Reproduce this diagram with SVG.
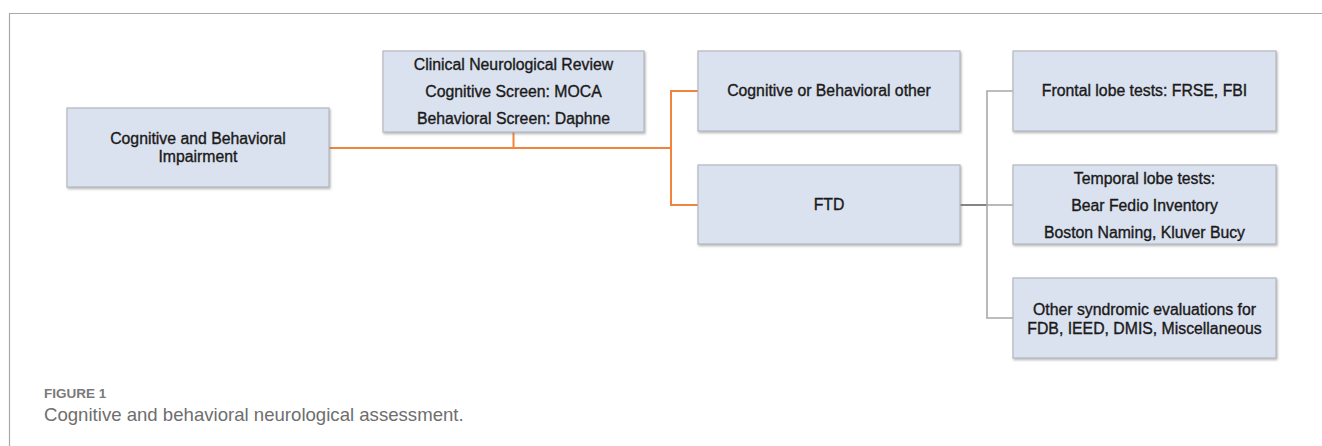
<svg xmlns="http://www.w3.org/2000/svg" width="1322" height="446" viewBox="0 0 1322 446">
  <defs>
    <filter id="sh" x="-5%" y="-5%" width="110%" height="115%">
      <feDropShadow dx="1" dy="1.5" stdDeviation="0.8" flood-color="#7a7a7a" flood-opacity="0.55"/>
    </filter>
  </defs>
  <style>
    .box { fill: #dae1ef; stroke: #b4b8c0; stroke-width: 1.2; filter: url(#sh); }
    .t { font-family: "Liberation Sans", Arial, sans-serif; font-size: 15.8px; fill: #1a1a1a; stroke: #1a1a1a; stroke-width: 0.35; text-anchor: middle; }
    .or { stroke: #f0843f; stroke-width: 2; fill: none; }
    .gr { stroke: #a8a8a8; stroke-width: 1.6; fill: none; }
    .gd { stroke: #858585; stroke-width: 2; fill: none; }
    .frame { stroke: #a9a9a9; stroke-width: 1.2; fill: none; }
    .cap1 { font-family: "Liberation Sans", Arial, sans-serif; font-size: 13.5px; font-weight: bold; fill: #7a7a7a; }
    .cap2 { font-family: "Liberation Sans", Arial, sans-serif; font-size: 18.6px; fill: #6e6e6e; }
  </style>
  <rect x="0" y="0" width="1322" height="446" fill="#ffffff"/>
  <path class="frame" d="M9.5,446 V13.5 H1322"/>

  <g id="connectors">
    <path class="or" d="M329,148 H671"/>
    <path class="or" d="M513.5,132 V148"/>
    <path class="or" d="M698,91 H671 V205 H698"/>
    <path class="gd" d="M960,205 H987"/>
    <path class="gr" d="M1013,91 H987 V318 H1013"/>
    <path class="gr" d="M987,205 H1013"/>
  </g>

  <g id="node-impairment">
    <rect class="box" x="67" y="108" width="262" height="79"/>
    <text class="t" x="198" y="144">Cognitive and Behavioral</text>
    <text class="t" x="198" y="162">Impairment</text>
  </g>

  <g id="node-clinical">
    <rect class="box" x="383" y="51" width="261" height="81"/>
    <text class="t" x="513.5" y="70">Clinical Neurological Review</text>
    <text class="t" x="513.5" y="97">Cognitive Screen: MOCA</text>
    <text class="t" x="513.5" y="124">Behavioral Screen: Daphne</text>
  </g>

  <g id="node-other">
    <rect class="box" x="698" y="51" width="262" height="80"/>
    <text class="t" x="829" y="96">Cognitive or Behavioral other</text>
  </g>

  <g id="node-ftd">
    <rect class="box" x="698" y="165" width="262" height="79"/>
    <text class="t" x="829" y="210">FTD</text>
  </g>

  <g id="node-frontal">
    <rect class="box" x="1013" y="51" width="263" height="80"/>
    <text class="t" x="1144.5" y="96">Frontal lobe tests: FRSE, FBI</text>
  </g>

  <g id="node-temporal">
    <rect class="box" x="1013" y="165" width="263" height="79"/>
    <text class="t" x="1144.5" y="184">Temporal lobe tests:</text>
    <text class="t" x="1144.5" y="211">Bear Fedio Inventory</text>
    <text class="t" x="1144.5" y="238">Boston Naming, Kluver Bucy</text>
  </g>

  <g id="node-syndromic">
    <rect class="box" x="1013" y="278" width="263" height="80"/>
    <text class="t" x="1144.5" y="315">Other syndromic evaluations for</text>
    <text class="t" x="1144.5" y="334">FDB, IEED, DMIS, Miscellaneous</text>
  </g>

  <g id="caption">
    <text class="cap1" x="44" y="398">FIGURE 1</text>
    <text class="cap2" x="44" y="421">Cognitive and behavioral neurological assessment.</text>
  </g>
</svg>
